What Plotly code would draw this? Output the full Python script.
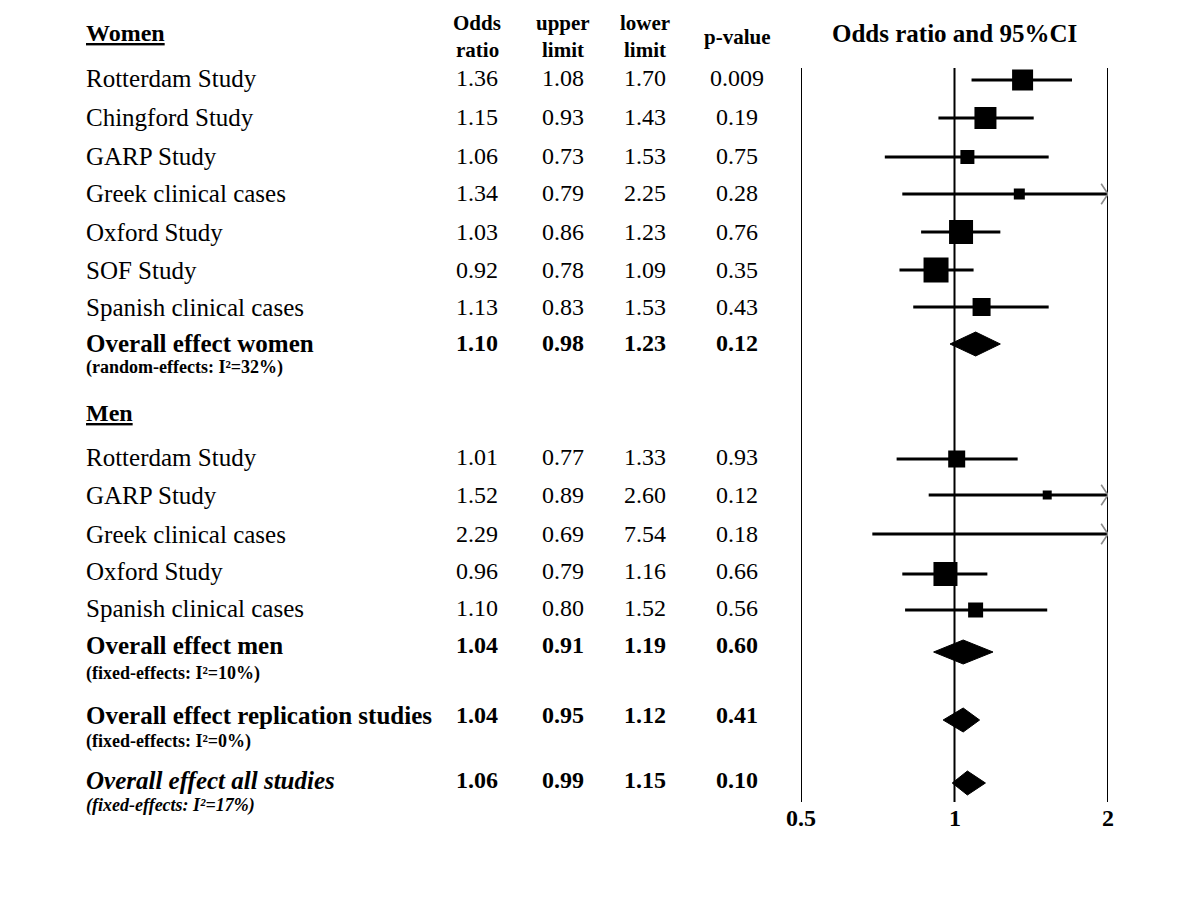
import math
import plotly.graph_objects as go

# ---------------- data ----------------
women_studies = ["Rotterdam Study", "Chingford Study", "GARP Study", "Greek clinical cases",
                 "Oxford Study", "SOF Study", "Spanish clinical cases"]
women_or = [1.36, 1.15, 1.06, 1.34, 1.03, 0.92, 1.13]
women_lo = [1.08, 0.93, 0.73, 0.79, 0.86, 0.78, 0.83]
women_hi = [1.70, 1.43, 1.53, 2.25, 1.23, 1.09, 1.53]
women_p = ["0.009", "0.19", "0.75", "0.28", "0.76", "0.35", "0.43"]

men_studies = ["Rotterdam Study", "GARP Study", "Greek clinical cases", "Oxford Study",
               "Spanish clinical cases"]
men_or = [1.01, 1.52, 2.29, 0.96, 1.10]
men_lo = [0.77, 0.89, 0.69, 0.79, 0.80]
men_hi = [1.33, 2.60, 7.54, 1.16, 1.52]
men_p = ["0.93", "0.12", "0.18", "0.66", "0.56"]

pooled_labels = ["Overall effect women", "Overall effect men",
                 "Overall effect replication studies", "Overall effect all studies"]
pooled_notes = ["(random-effects: I²=32%)", "(fixed-effects: I²=10%)",
                "(fixed-effects: I²=0%)", "(fixed-effects: I²=17%)"]
pooled_or = [1.10, 1.04, 1.04, 1.06]
pooled_lo = [0.98, 0.91, 0.95, 0.99]
pooled_hi = [1.23, 1.19, 1.12, 1.15]
pooled_p = ["0.12", "0.60", "0.41", "0.10"]

ticks = [0.5, 1, 2]
col_headers_top = ["Odds", "upper", "lower"]
col_headers_bottom = ["ratio", "limit", "limit"]
p_header = "p-value"

# ---------------- layout / style ----------------
women_square_px = [21, 22, 14, 11, 24, 25, 18]
men_square_px = [17, 9, 8, 24, 15]

women_text_y = [78, 117, 156, 193, 232, 270, 307]
women_mark_y = [80, 118, 157, 194, 232, 270, 307]
men_text_y = [457, 495, 534, 571, 608]
men_mark_y = [459, 495, 534, 574, 610]
pooled_text_y = [343, 645, 715, 780]
pooled_note_y = [367, 673, 741, 805]
pooled_mark_y = [344, 652, 720, 783]
pooled_style = ["b", "b", "b", "bi"]
women_head_y, men_head_y = 33, 413

W, H = 1200, 900
label_x = 84
col_x = [477, 563, 645, 737]
axis_px = (801, 1108)
vline_top, vline_bot = 68, 802
diamond_half_h = 12

SERIF = "Liberation Serif"
fig = go.Figure()

# reference vertical lines
vx, vy = [], []
for t in ticks:
    vx += [t, t, None]
    vy += [vline_top, vline_bot, None]
fig.add_trace(go.Scatter(x=vx, y=vy, mode="lines", line=dict(color="black", width=2),
                         cliponaxis=False, hoverinfo="skip", showlegend=False))

# confidence-interval lines
all_or = women_or + men_or
all_lo = women_lo + men_lo
all_hi = women_hi + men_hi
all_y = women_mark_y + men_mark_y
all_sz = women_square_px + men_square_px
cx, cy = [], []
for lo, hi, y in zip(all_lo, all_hi, all_y):
    cx += [lo, hi, None]
    cy += [y, y, None]
fig.add_trace(go.Scatter(x=cx, y=cy, mode="lines", line=dict(color="black", width=3),
                         cliponaxis=True, hoverinfo="skip", showlegend=False))

# truncated CI chevrons
chev_x = [ticks[-1] for hi in all_hi if hi > ticks[-1]]
chev_y = [y for hi, y in zip(all_hi, all_y) if hi > ticks[-1]]
fig.add_trace(go.Scatter(x=chev_x, y=chev_y, mode="markers",
                         marker=dict(symbol="y-right", size=17, color="#8a8a8a", opacity=1,
                                     line=dict(color="#8a8a8a", width=1.6)),
                         cliponaxis=True, hoverinfo="skip", showlegend=False))

# study squares
fig.add_trace(go.Scatter(x=all_or, y=all_y, mode="markers",
                         marker=dict(symbol="square", size=all_sz, color="black", opacity=1,
                                     line=dict(width=0)),
                         cliponaxis=True, hoverinfo="skip", showlegend=False))

# pooled diamonds
for o, lo, hi, y in zip(pooled_or, pooled_lo, pooled_hi, pooled_mark_y):
    fig.add_trace(go.Scatter(
        x=[lo, o, hi, o, lo],
        y=[y, y - diamond_half_h, y, y + diamond_half_h, y],
        mode="lines", fill="toself", fillcolor="black",
        line=dict(color="black", width=1), hoverinfo="skip", showlegend=False))

# ---------------- text ----------------
ann = []


def txt(x, y, text, size, anchor="left", xref="paper"):
    ann.append(dict(x=(x / W if xref == "paper" else math.log10(x)), y=y, xref=xref, yref="y",
                    text=text, showarrow=False, xanchor=anchor, yanchor="middle",
                    font=dict(family=SERIF, size=size, color="black")))


txt(label_x, women_head_y, "<b><u>Women</u></b>", 24)
txt(label_x, men_head_y, "<b><u>Men</u></b>", 24)
for cx_, top, bot in zip(col_x, col_headers_top, col_headers_bottom):
    txt(cx_, 23, "<b>" + top + "</b>", 21, anchor="center")
    txt(cx_, 50, "<b>" + bot + "</b>", 21, anchor="center")
txt(col_x[3], 37, "<b>" + p_header + "</b>", 21, anchor="center")
txt(954, 33, "<b>Odds ratio and 95%CI</b>", 25, anchor="center")

for names, ors, los, his, ps, ys in [
    (women_studies, women_or, women_lo, women_hi, women_p, women_text_y),
    (men_studies, men_or, men_lo, men_hi, men_p, men_text_y),
]:
    for n, o, lo, hi, p, y in zip(names, ors, los, his, ps, ys):
        txt(label_x, y, n, 25)
        txt(col_x[0], y, f"{o:.2f}", 24, anchor="center")
        txt(col_x[1], y, f"{lo:.2f}", 24, anchor="center")
        txt(col_x[2], y, f"{hi:.2f}", 24, anchor="center")
        txt(col_x[3], y, p, 24, anchor="center")

for lab, note, o, lo, hi, p, y, ny, st in zip(pooled_labels, pooled_notes, pooled_or, pooled_lo,
                                              pooled_hi, pooled_p, pooled_text_y, pooled_note_y,
                                              pooled_style):
    if st == "bi":
        txt(label_x, y, "<b><i>" + lab + "</i></b>", 25)
        txt(label_x, ny, "<b><i>" + note + "</i></b>", 18)
    else:
        txt(label_x, y, "<b>" + lab + "</b>", 25)
        txt(label_x, ny, "<b>" + note + "</b>", 18)
    txt(col_x[0], y, f"<b>{o:.2f}</b>", 24, anchor="center")
    txt(col_x[1], y, f"<b>{lo:.2f}</b>", 24, anchor="center")
    txt(col_x[2], y, f"<b>{hi:.2f}</b>", 24, anchor="center")
    txt(col_x[3], y, f"<b>{p}</b>", 24, anchor="center")

for t in ticks:
    txt(t, 818, f"<b>{t:g}</b>", 24, anchor="center", xref="x")

fig.update_layout(
    width=W, height=H, autosize=False,
    margin=dict(l=0, r=0, t=0, b=0, pad=0),
    paper_bgcolor="white", plot_bgcolor="white",
    xaxis=dict(type="log", range=[math.log10(ticks[0]), math.log10(ticks[-1])],
               domain=[axis_px[0] / W, axis_px[1] / W], visible=False, fixedrange=True),
    yaxis=dict(range=[H, 0], domain=[0, 1], visible=False, fixedrange=True),
    annotations=ann,
    showlegend=False,
)

fig.write_html("out.html", config={"displayModeBar": False},
               post_script="document.body.style.margin='0';")
